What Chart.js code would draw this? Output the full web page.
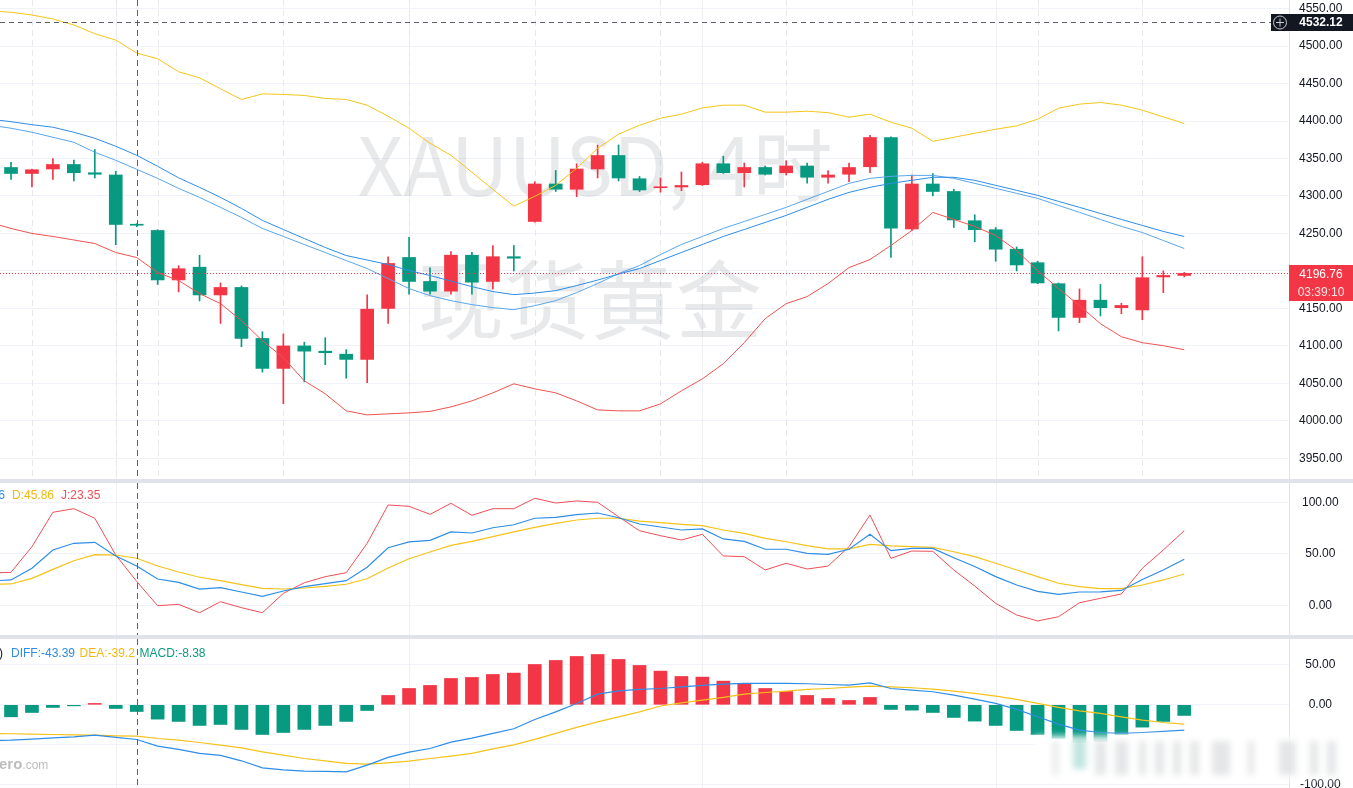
<!DOCTYPE html>
<html>
<head>
<meta charset="utf-8">
<title>XAUUSD 4时</title>
<script src="https://cdn.jsdelivr.net/npm/chart.js@4.4.0/dist/chart.umd.min.js"></script>
<style>
  html, body { margin: 0; padding: 0; background: #fff; overflow: hidden; }
  #wrap { position: relative; width: 1353px; height: 788px; }
  #wrap canvas { position: absolute; left: 0; }
  .sep { position: absolute; left: 0; width: 1353px; height: 4px; background: #e0e3eb; }
</style>
</head>
<body>
<div id="wrap">
  <canvas id="mainChart" width="1353" height="479" style="top:0"></canvas>
  <div class="sep" style="top:479px"></div>
  <canvas id="kdjChart" width="1353" height="152" style="top:483px"></canvas>
  <div class="sep" style="top:635px"></div>
  <canvas id="macdChart" width="1353" height="149" style="top:639px"></canvas>
</div>
<script>
// Candles (4h bars), index 0 = first bar on screen
var opens  = [4338,4330,4336,4342,4331,4328,4262,4254,4188,4205,4168,4178,4110,4070,4100,4093,4089,4082,4150,4218,4186,4173,4221,4186,4219,4266,4316,4309,4336,4354,4323,4311,4312,4315,4343,4331,4338,4331,4340,4325,4329,4339,4378,4256,4316,4306,4267,4255,4229,4211,4183,4138,4161,4151,4148,4192,4194];
var highs  = [4345,4336,4350,4348,4362,4333,4263,4255,4207,4221,4184,4180,4119,4116,4105,4111,4095,4168,4219,4245,4204,4226,4225,4234,4234,4319,4334,4343,4368,4368,4326,4324,4332,4345,4353,4344,4340,4347,4344,4334,4344,4381,4379,4328,4330,4309,4275,4258,4232,4213,4184,4176,4182,4157,4219,4200,4198];
var lows   = [4322,4312,4322,4320,4324,4235,4259,4182,4172,4160,4130,4099,4065,4023,4052,4075,4057,4051,4130,4169,4169,4169,4169,4176,4200,4265,4306,4299,4324,4320,4306,4305,4307,4314,4330,4312,4328,4328,4317,4317,4319,4331,4218,4254,4300,4258,4239,4213,4200,4183,4120,4131,4140,4143,4135,4171,4192];
var closes = [4330,4335,4342,4331,4329,4262,4261,4188,4203,4168,4178,4110,4070,4100,4093,4091,4082,4149,4210,4186,4173,4221,4185,4219,4217,4316,4309,4336,4354,4324,4308,4312,4314,4343,4331,4338,4329,4340,4325,4328,4338,4378,4257,4316,4306,4268,4255,4229,4208,4184,4138,4161,4151,4154,4191,4194,4196.76];

// Indicator series start one bar before the first visible candle
var lineStart = -1;
var bollUpper = [4546.8,4545.1,4541.4,4536.1,4528.1,4516.4,4508.0,4490.6,4483.0,4465.6,4457.6,4442.9,4428.7,4436.2,4435.4,4434.1,4430.1,4428.7,4421.1,4406.4,4390.4,4370.3,4354.3,4331.6,4308.8,4286.5,4299.5,4314.2,4336.9,4363.6,4382.4,4394.4,4403.7,4409.1,4417.5,4421.1,4421.1,4411.8,4411.8,4413.1,4411.1,4405.1,4409.1,4398.4,4390.4,4373.0,4378.3,4383.7,4389.0,4393.5,4402.4,4417.1,4422.5,4424.7,4421.1,4414.4,4405.5,4396.7];
var maSlow    = [4402.4,4399.1,4395.1,4391.7,4385.0,4377.0,4366.3,4354.3,4339.6,4324.2,4311.5,4298.1,4283.4,4267.4,4255.3,4243.3,4231.3,4220.6,4214.6,4208.6,4200.5,4193.9,4186.5,4179.1,4172.5,4168.4,4170.5,4173.8,4180.5,4187.8,4195.9,4203.2,4213.9,4224.6,4235.3,4246.0,4255.3,4264.7,4274.1,4284.8,4295.5,4304.8,4311.5,4316.8,4320.9,4324.9,4324.9,4320.9,4314.2,4307.5,4300.8,4292.8,4284.8,4276.7,4268.7,4260.7,4252.7,4246.0];
var maFast    = [4394.4,4390.4,4385.0,4378.3,4371.7,4358.3,4347.6,4335.6,4323.5,4310.2,4298.1,4284.8,4271.4,4256.7,4246.0,4235.3,4224.6,4213.9,4203.2,4189.8,4176.5,4167.1,4160.4,4155.1,4151.1,4148.4,4153.7,4160.4,4171.1,4183.2,4196.5,4207.2,4221.9,4235.3,4246.0,4256.7,4266.0,4275.4,4284.8,4295.5,4306.1,4316.8,4323.5,4326.2,4327.5,4327.5,4323.5,4316.8,4310.2,4303.5,4296.8,4287.4,4278.1,4268.7,4259.4,4251.3,4240.6,4229.9];
var bollLower = [4264.7,4256.7,4250.0,4246.0,4241.3,4236.6,4224.6,4217.9,4197.9,4187.2,4169.8,4156.4,4133.7,4107.0,4084.2,4053.5,4036.1,4013.4,4008.0,4009.4,4010.7,4012.7,4018.7,4026.7,4037.4,4049.5,4042.8,4037.4,4026.7,4014.7,4013.4,4013.4,4022.7,4040.1,4056.1,4076.2,4104.3,4136.4,4156.4,4165.8,4183.2,4204.5,4215.2,4234.0,4254.0,4278.1,4268.7,4259.4,4247.3,4227.3,4200.5,4176.5,4153.7,4129.7,4112.3,4104.3,4100.3,4094.9];

// KDJ
var kValues = [23.8,24.8,36.1,53.9,60.4,61.3,48.1,38.4,25.7,22.5,16.0,17.3,13.1,8.9,14.1,18.3,21.2,24.1,37.1,56.1,61.7,63.3,71.4,70.4,75.5,78.4,84.7,85.6,88.2,89.8,85.2,79.1,76.2,73.3,74.3,64.6,62.3,54.6,54.6,50.7,49.7,54.6,69.1,53.2,55.5,55.5,46.3,37.9,28.0,19.9,13.7,10.8,13.1,13.2,14.6,25.3,34.5,44.9];
var dValues = [20.5,20.9,26.4,35.1,43.5,49.3,49.0,45.86,38.3,32.5,27.4,24.1,20.2,16.7,16.0,17.0,18.6,20.6,26.0,36.4,45.4,51.9,58.4,62.3,66.8,71.4,75.9,79.8,83.0,84.7,84.7,82.0,80.4,78.8,77.5,73.3,70.1,65.2,61.9,58.1,54.9,54.9,59.4,57.8,57.1,56.5,52.2,47.4,41.0,34.5,28.0,21.6,18.3,16.3,16.3,19.9,24.8,30.6];
var jValues = [31.5,32.2,57.1,90.5,94.0,84.7,49.0,23.35,-0.2,1.1,-7.0,3.7,-2.1,-7.0,11.8,22.1,28.0,31.8,60.4,97.6,96.3,88.5,99.2,87.6,94.0,94.0,104.1,99.5,101.5,100.2,86.2,72.6,67.8,63.6,69.1,48.1,47.4,34.5,41.0,35.4,38.3,57.1,87.9,45.8,52.9,52.6,34.5,18.9,2.1,-9.2,-15.0,-10.9,2.7,7.0,11.2,36.1,53.9,72.6];

// MACD (histogram starts at bar 0, lines at lineStart)
var macdHist = [-15,-9.6,-3.3,-1.3,1.7,-4.6,-8.38,-17.9,-20.8,-25.8,-24.6,-30.8,-37.1,-34.6,-30.8,-25.8,-20.8,-7.1,11.7,20.4,24.2,32.9,34.2,37.9,39.6,50.4,55.4,60.4,62.9,56.7,49.2,42.1,35.4,34.6,29.6,25.8,20.4,16.7,11.7,7.9,5.4,9.2,-5.8,-6.7,-9.6,-15.8,-20.4,-25.8,-32.1,-37.1,-42,-47,-46,-36.7,-27.9,-20.8,-13.3];
var diffValues = [-44.5,-44.2,-42.9,-41.3,-40.0,-37.9,-40.8,-43.39,-51.7,-55.8,-60.8,-63.3,-70.0,-78.8,-81.3,-82.9,-83.3,-83.8,-75.4,-65.8,-59.2,-54.6,-46.7,-41.7,-35.8,-30.0,-18.3,-8.8,1.7,13.3,17.5,19.2,20.4,22.5,24.2,25.8,26.7,26.7,26.7,26.3,25.4,24.6,27.5,20.4,18.3,16.3,12.1,7.1,1.7,-5.8,-15.0,-24.2,-31.7,-34.6,-35.8,-34.6,-33.3,-31.7];
var deaValues  = [-36.0,-36.2,-36.7,-37.1,-37.5,-37.9,-38.8,-39.2,-42.1,-44.2,-47.1,-50.4,-53.8,-58.8,-62.9,-67.1,-70.0,-73.3,-74.2,-72.5,-70.4,-67.1,-64.2,-60.8,-55.0,-50.0,-43.3,-35.8,-28.3,-21.3,-15.0,-8.8,-1.5,2.5,5.8,9.2,13.3,15.4,17.1,19.2,20.4,22.1,23.3,22.5,21.3,19.6,17.1,14.2,10.8,6.7,1.7,-3.3,-7.5,-10.8,-15.0,-19.2,-22.1,-24.2];

// Axis ticks
var priceTicks = [3950,4000,4050,4100,4150,4200,4250,4300,4350,4400,4450,4500,4550];
var kdjTicks   = [0,50,100];
var macdTicks  = [-100,-50,0,50];

var lastPrice = 4196.76;
var countdown = '03:39:10';
var crossPrice = 4532.12;
var crossBar = 6;
var solidGridBars  = [5,19,33,47];
var dashedGridBars = [1,5,7,13,19,25,31,37,43,49,54];

var UP = '#F23645', DOWN = '#089981';
var BLUE = '#2E8DE6', BLUE2 = '#5AA6EC', YELLOW = '#F5C21B', RED = '#EF4E57';
var TXT = '#131722';

function candleColor(i) { return closes[i] >= opens[i] ? UP : DOWN; }

function toPoints(values, start) {
  return values.map(function (v, k) { return { x: k + start, y: v }; });
}

function lineSet(label, values, color, width) {
  return {
    type: 'line', label: label, data: toPoints(values, lineStart),
    borderColor: color, borderWidth: width || 1, pointRadius: 0, tension: 0, order: 0
  };
}

function xAxis() {
  return { type: 'linear', min: -0.525, max: 61, display: false, offset: false };
}

function yAxis(min, max, ticks, pad, hidden) {
  return {
    position: 'right', min: min, max: max,
    afterFit: function (s) { s.width = 64; s.paddingTop = 0; s.paddingBottom = 0; },
    afterBuildTicks: function (s) { s.ticks = ticks.map(function (v) { return { value: v }; }); },
    grid: { color: '#f0f3fa', drawTicks: false },
    border: { display: true, color: '#e0e3eb' },
    ticks: {
      crossAlign: 'center', padding: pad, color: TXT,
      font: { family: 'Liberation Sans', size: 12 },
      callback: function (v) { return hidden.indexOf(v) >= 0 ? '' : Number(v).toFixed(2); }
    }
  };
}

function drawVerticalGrid(chart, dashed) {
  var ctx = chart.ctx, xs = chart.scales.x, a = chart.chartArea;
  ctx.save();
  ctx.lineWidth = 1;
  ctx.strokeStyle = '#eef0f4';
  solidGridBars.forEach(function (i) {
    var px = Math.round(xs.getPixelForValue(i)) + 0.5;
    ctx.beginPath(); ctx.moveTo(px, a.top); ctx.lineTo(px, a.bottom); ctx.stroke();
  });
  if (dashed) {
    ctx.strokeStyle = '#e6e8ee';
    ctx.setLineDash([6, 4]);
    dashedGridBars.forEach(function (i) {
      var px = Math.round(xs.getPixelForValue(i)) + 0.5;
      ctx.beginPath(); ctx.moveTo(px, a.top); ctx.lineTo(px, a.bottom); ctx.stroke();
    });
  }
  ctx.restore();
}

function drawCrossV(chart) {
  var ctx = chart.ctx;
  var px = Math.round(chart.scales.x.getPixelForValue(crossBar)) + 0.5;
  ctx.save();
  ctx.strokeStyle = '#5d606b';
  ctx.lineWidth = 1;
  ctx.setLineDash([6, 4]);
  ctx.beginPath(); ctx.moveTo(px, 0); ctx.lineTo(px, chart.height); ctx.stroke();
  ctx.restore();
}

function drawLegend(ctx, y, parts) {
  ctx.save();
  ctx.font = '12px "Liberation Sans"';
  ctx.textBaseline = 'middle';
  parts.forEach(function (p) {
    ctx.fillStyle = p.color;
    ctx.textAlign = p.align || 'left';
    ctx.fillText(p.text, p.x, y);
  });
  ctx.restore();
}

var commonOpts = {
  responsive: false, animation: false, devicePixelRatio: 1,
  layout: { padding: 0, autoPadding: false },
  plugins: { legend: { display: false }, tooltip: { enabled: false } },
  events: []
};

function opts(scales) {
  return Object.assign({}, commonOpts, { scales: scales });
}

// Main price panel
var mainPlugin = {
  id: 'mainDecor',
  beforeDatasetsDraw: function (chart) {
    drawVerticalGrid(chart, true);
    var ctx = chart.ctx;
    ctx.save();
    ctx.fillStyle = 'rgba(120,123,134,0.17)';
    ctx.textAlign = 'center';
    ctx.font = '80px "Noto Sans CJK SC"';
    ctx.fillText('XAUUSD, 4时', 595, 196);
    ctx.font = '86px "Noto Sans CJK SC"';
    ctx.fillText('现货黄金', 590, 333);
    ctx.restore();
  },
  afterDatasetsDraw: function (chart) {
    var ctx = chart.ctx, ys = chart.scales.y, a = chart.chartArea;
    ctx.save();
    var py = Math.round(ys.getPixelForValue(lastPrice)) + 0.5;
    ctx.strokeStyle = UP;
    ctx.setLineDash([1, 2]);
    ctx.beginPath(); ctx.moveTo(0, py); ctx.lineTo(a.right, py); ctx.stroke();
    var cy = Math.round(ys.getPixelForValue(crossPrice)) + 0.5;
    ctx.strokeStyle = '#5d606b';
    ctx.setLineDash([5, 4]);
    ctx.beginPath(); ctx.moveTo(0, cy); ctx.lineTo(a.right - 18, cy); ctx.stroke();
    ctx.restore();
    drawCrossV(chart);
  },
  afterDraw: function (chart) {
    var ctx = chart.ctx, ys = chart.scales.y, a = chart.chartArea;
    var mid = (a.right + chart.width) / 2;
    ctx.save();
    // last price tag
    var py = ys.getPixelForValue(lastPrice);
    ctx.fillStyle = UP;
    ctx.fillRect(a.right, Math.round(py) - 8, chart.width - a.right, 36);
    ctx.textAlign = 'center';
    ctx.textBaseline = 'middle';
    ctx.font = '12px "Liberation Sans"';
    ctx.fillStyle = '#ffffff';
    ctx.fillText(lastPrice.toFixed(2), mid, py + 1);
    ctx.fillStyle = 'rgba(255,255,255,0.85)';
    ctx.fillText(countdown, mid, py + 19);
    // crosshair tag
    var cy = ys.getPixelForValue(crossPrice);
    ctx.fillStyle = '#131722';
    ctx.fillRect(a.right - 18, Math.round(cy) - 8, chart.width - a.right + 18, 17);
    ctx.fillStyle = '#ffffff';
    ctx.font = 'bold 12px "Liberation Sans"';
    ctx.fillText(crossPrice.toFixed(2), mid, cy + 1);
    ctx.strokeStyle = '#c8cad0';
    ctx.lineWidth = 1;
    var ix = a.right - 9, iy = Math.round(cy) + 0.5;
    ctx.beginPath(); ctx.arc(ix, iy, 6.5, 0, Math.PI * 2); ctx.stroke();
    ctx.beginPath();
    ctx.moveTo(ix - 4, iy); ctx.lineTo(ix + 4, iy);
    ctx.moveTo(ix, iy - 4); ctx.lineTo(ix, iy + 4);
    ctx.stroke();
    ctx.restore();
  }
};

var candleIdx = opens.map(function (v, i) { return i; });

new Chart(document.getElementById('mainChart'), {
  type: 'bar',
  data: {
    datasets: [
      lineSet('Boll upper', bollUpper, '#F5C518'),
      lineSet('MA slow', maSlow, BLUE),
      lineSet('MA fast', maFast, BLUE2),
      lineSet('Boll lower', bollLower, '#EF5350'),
      {
        label: 'body', order: 1, grouped: false, barThickness: 13, minBarLength: 1,
        data: candleIdx.map(function (i) { return { x: i, y: [opens[i], closes[i]] }; }),
        backgroundColor: function (c) { return candleColor(c.dataIndex); }
      },
      {
        label: 'wick', order: 2, grouped: false, barThickness: 1,
        data: candleIdx.map(function (i) { return { x: i, y: [lows[i], highs[i]] }; }),
        backgroundColor: function (c) { return candleColor(c.dataIndex); }
      }
    ]
  },
  options: opts({ x: xAxis(), y: yAxis(3922.5, 4561.4, priceTicks, 10, []) }),
  plugins: [mainPlugin]
});

// KDJ panel
new Chart(document.getElementById('kdjChart'), {
  type: 'line',
  data: {
    datasets: [
      lineSet('K', kValues, BLUE, 1.2),
      lineSet('D', dValues, YELLOW, 1.2),
      lineSet('J', jValues, RED, 1)
    ]
  },
  options: opts({ x: xAxis(), y: yAxis(-28.64, 118.93, kdjTicks, 13, []) }),
  plugins: [{
    id: 'kdjDecor',
    beforeDatasetsDraw: function (chart) { drawVerticalGrid(chart, false); },
    afterDatasetsDraw: drawCrossV,
    afterDraw: function (chart) {
      drawLegend(chart.ctx, 12.5, [
        { text: 'K:38.36', x: 5, align: 'right', color: BLUE },
        { text: 'D:45.86', x: 12, color: '#F2B90F' },
        { text: 'J:23.35', x: 61, color: RED }
      ]);
    }
  }]
});

// MACD panel
new Chart(document.getElementById('macdChart'), {
  type: 'bar',
  data: {
    datasets: [
      lineSet('DIFF', diffValues, BLUE, 1.2),
      lineSet('DEA', deaValues, YELLOW, 1.2),
      {
        label: 'MACD', order: 1, grouped: false, barThickness: 13,
        data: macdHist.map(function (v, i) { return { x: i, y: v }; }),
        backgroundColor: function (c) { return macdHist[c.dataIndex] >= 0 ? UP : DOWN; }
      }
    ]
  },
  options: opts({ x: xAxis(), y: yAxis(-104, 82.25, macdTicks, 11, [-50]) }),
  plugins: [{
    id: 'macdDecor',
    beforeDatasetsDraw: function (chart) {
      drawVerticalGrid(chart, false);
      var ctx = chart.ctx;
      ctx.save();
      ctx.fillStyle = '#bdbdbd';
      ctx.textBaseline = 'middle';
      ctx.font = 'bold 15px "Liberation Sans"';
      ctx.fillText('ero', -1, 126);
      var w = ctx.measureText('ero').width;
      ctx.font = '12px "Liberation Sans"';
      ctx.fillText('.com', w - 1, 127);
      ctx.restore();
    },
    afterDatasetsDraw: drawCrossV,
    afterDraw: function (chart) {
      var ctx = chart.ctx;
      // blurred overlay mark at the bottom right
      ctx.save();
      ctx.filter = 'blur(3px)';
      ctx.fillStyle = 'rgba(255,255,255,0.93)';
      ctx.fillRect(1034, 97, 306, 42);
      ctx.fillStyle = 'rgba(170,172,176,0.3)';
      [[1053,5],[1095,11],[1115,13],[1139,7],[1155,9],[1173,8],[1190,9],[1212,18],[1248,6],[1279,17],[1310,8],[1327,9]].forEach(function (s) {
        ctx.fillRect(s[0], 102, s[1], 34);
      });
      ctx.fillStyle = 'rgba(8,153,129,0.25)';
      ctx.fillRect(1073, 100, 13, 30);
      ctx.restore();
      drawLegend(ctx, 14.7, [
        { text: 'MACD(12,26,9)', x: 3, align: 'right', color: TXT },
        { text: 'DIFF:-43.39', x: 11, color: BLUE },
        { text: 'DEA:-39.2', x: 79.5, color: '#F2B90F' },
        { text: 'MACD:-8.38', x: 139.5, color: '#0E9A82' }
      ]);
    }
  }]
});
</script>
</body>
</html>
